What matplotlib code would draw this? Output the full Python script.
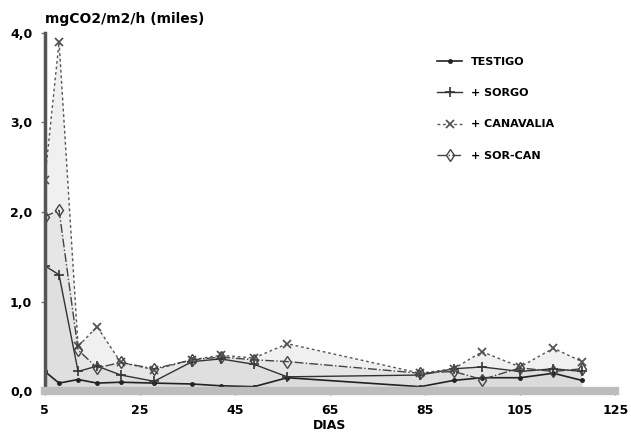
import numpy as np
import matplotlib
matplotlib.use("Agg")
import matplotlib.pyplot as plt

# days of sampling and CO2 flux (thousands of mgCO2/m2/h)
days = [5, 8, 12, 16, 21, 28, 36, 42, 49, 56, 84, 91, 97, 105, 112, 118]
testigo = [0.22, 0.09, 0.13, 0.09, 0.10, 0.09, 0.08, 0.06, 0.05, 0.15, 0.05, 0.12, 0.15, 0.15, 0.20, 0.12]
sorgo = [1.40, 1.30, 0.22, 0.28, 0.18, 0.11, 0.33, 0.36, 0.30, 0.16, 0.18, 0.25, 0.27, 0.22, 0.25, 0.22]
canavalia = [2.36, 3.90, 0.50, 0.72, 0.32, 0.24, 0.35, 0.40, 0.37, 0.53, 0.20, 0.25, 0.44, 0.27, 0.48, 0.33]
sorcan = [1.95, 2.02, 0.46, 0.26, 0.32, 0.25, 0.35, 0.38, 0.35, 0.33, 0.20, 0.22, 0.13, 0.26, 0.22, 0.25]

xticks = [5, 25, 45, 65, 85, 105, 125]
yticks = [0, 1, 2, 3, 4]
ytick_labels = ["0,0", "1,0", "2,0", "3,0", "4,0"]

plt.rcParams['font.family'] = ['DejaVu Sans']

fig = plt.figure(figsize=(6.31, 4.45), dpi=100)
ax = fig.add_axes([0.071, 0.121, 0.904, 0.805])

# light shading under the curves
for s in [canavalia, sorcan, sorgo, testigo]:
    ax.fill_between(days, 0, s, color='#d4d4d4', alpha=0.35, lw=0)

ax.plot(days, testigo, color='#222222', lw=1.2, marker='o', ms=2.5, label="TESTIGO")
ax.plot(days, sorgo, color='#333333', lw=1.0, marker='+', ms=7, mew=1.2, label="+ SORGO")
ax.plot(days, canavalia, color='#555555', lw=1.0, ls=(0, (2, 2)), marker='x', ms=6, mew=1.3,
        label="+ CANAVALIA")
ax.plot(days, sorcan, color='#444444', lw=1.0, ls='-.', marker='d', ms=6, mfc='none', mew=1.0,
        label="+ SOR-CAN")

ax.set_xlim(5, 125)
ax.set_ylim(0, 4.0)
ax.set_xticks(xticks)
ax.set_xticklabels([str(t) for t in xticks], fontweight='bold', fontsize=9)
ax.set_yticks(yticks)
ax.set_yticklabels(ytick_labels, fontweight='bold', fontsize=9)
ax.tick_params(axis='both', length=3, width=1, color='#777777', pad=6)

for side in ['top', 'right']:
    ax.spines[side].set_visible(False)
ax.spines['left'].set_linewidth(2.5)
ax.spines['left'].set_color('#555555')
ax.spines['bottom'].set_linewidth(6)
ax.spines['bottom'].set_color('#bdbdbd')

ax.set_xlabel("DIAS", fontweight='bold', fontsize=9, labelpad=2)
ax.text(0.0, 1.02, "mgCO2/m2/h (miles)", transform=ax.transAxes, fontweight='bold',
        fontsize=10, ha='left', va='bottom')

ax.legend(loc='upper right', bbox_to_anchor=(0.91, 0.96), frameon=False,
          prop={'weight': 'bold', 'size': 8}, handlelength=2.2, labelspacing=1.9)

fig.savefig("out.png", dpi=100)
